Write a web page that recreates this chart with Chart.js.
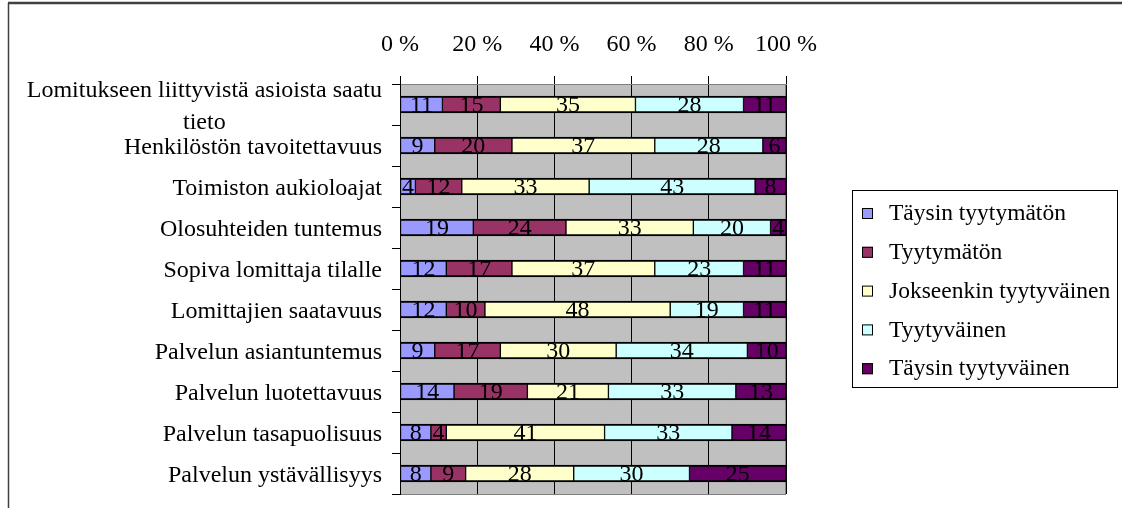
<!DOCTYPE html>
<html>
<head>
<meta charset="utf-8">
<script src="https://cdn.jsdelivr.net/npm/chart.js@4/dist/chart.umd.min.js"></script>
<style>
  html, body { margin: 0; padding: 0; background: #ffffff; }
  #wrap { width: 1122px; height: 508px; position: relative; }
</style>
</head>
<body>
<div id="wrap"><canvas id="c" width="1122" height="508"></canvas></div>
<script>
// ---- data ----
const categories = [
  ['Lomitukseen liittyvistä asioista saatu', 'tieto'],
  'Henkilöstön tavoitettavuus',
  'Toimiston aukioloajat',
  'Olosuhteiden tuntemus',
  'Sopiva lomittaja tilalle',
  'Lomittajien saatavuus',
  'Palvelun asiantuntemus',
  'Palvelun luotettavuus',
  'Palvelun tasapuolisuus',
  'Palvelun ystävällisyys'
];
const seriesNames = ['Täysin tyytymätön', 'Tyytymätön', 'Jokseenkin tyytyväinen', 'Tyytyväinen', 'Täysin tyytyväinen'];
const taysinTyytymaton   = [11, 9, 4, 19, 12, 12, 9, 14, 8, 8];
const tyytymaton         = [15, 20, 12, 24, 17, 10, 17, 19, 4, 9];
const jokseenkin         = [35, 37, 33, 33, 37, 48, 30, 21, 41, 28];
const tyytyvainen        = [28, 28, 43, 20, 23, 19, 34, 33, 33, 30];
const taysinTyytyvainen  = [11, 6, 8, 4, 11, 11, 10, 13, 14, 25];
const seriesColors = ['#9999ff', '#993366', '#ffffcc', '#ccffff', '#660066'];
const tickValues = [0, 20, 40, 60, 80, 100];
const tickSuffix = ' %';

const FONT = '"Liberation Serif", "Times New Roman", serif';
const seriesData = [taysinTyytymaton, tyytymaton, jokseenkin, tyytyvainen, taysinTyytyvainen];

const datasets = seriesNames.map((name, i) => ({
  label: name,
  data: seriesData[i],
  backgroundColor: seriesColors[i],
  borderColor: '#000000',
  borderWidth: { top: 2, bottom: 2, left: 1, right: 1 },
  borderSkipped: false,
  barThickness: 17
}));

const framePlugin = {
  id: 'frame',
  beforeDraw(chart) {
    const ctx = chart.ctx, a = chart.chartArea;
    ctx.save();
    ctx.fillStyle = '#ffffff';
    ctx.fillRect(0, 0, chart.width, chart.height);
    // outer frame (top and left edges)
    ctx.strokeStyle = '#404040';
    ctx.lineWidth = 2.5;
    ctx.beginPath();
    ctx.moveTo(8, 3); ctx.lineTo(chart.width, 3);
    ctx.stroke();
    ctx.lineWidth = 1.5;
    ctx.beginPath();
    ctx.moveTo(8.5, 3); ctx.lineTo(8.5, chart.height);
    ctx.stroke();
    // plot background
    ctx.fillStyle = '#c0c0c0';
    ctx.fillRect(a.left, a.top, a.right - a.left, a.bottom - a.top);
    ctx.strokeStyle = '#808080';
    ctx.lineWidth = 1;
    ctx.strokeRect(a.left + 0.5, a.top + 0.5, a.right - a.left - 1, a.bottom - a.top);
    ctx.restore();
  },
  afterDatasetsDraw(chart) {
    const ctx = chart.ctx;
    ctx.save();
    ctx.font = '24px ' + FONT;
    ctx.fillStyle = '#000000';
    ctx.textAlign = 'center';
    ctx.textBaseline = 'middle';
    chart.data.datasets.forEach((ds, i) => {
      const meta = chart.getDatasetMeta(i);
      meta.data.forEach((bar, j) => {
        const v = ds.data[j];
        const cx = (bar.x + bar.base) / 2;
        ctx.fillText(String(v), cx, bar.y + 1);
      });
    });
    ctx.restore();
  },
  afterDraw(chart) {
    const ctx = chart.ctx;
    const yScale = chart.scales.y;
    ctx.save();
    // category labels
    ctx.font = '24px ' + FONT;
    ctx.fillStyle = '#000000';
    ctx.textBaseline = 'middle';
    const rightEdge = 382;
    categories.forEach((lab, j) => {
      const cy = yScale.getPixelForValue(j);
      if (Array.isArray(lab)) {
        const maxW = Math.max(...lab.map(l => ctx.measureText(l).width));
        const cx = rightEdge - maxW / 2;
        const lh = 32;
        const startY = cy + 2.5 - (lab.length - 1) * lh / 2;
        ctx.textAlign = 'center';
        lab.forEach((l, k) => ctx.fillText(l, cx, startY + k * lh));
      } else {
        ctx.textAlign = 'right';
        ctx.fillText(lab, rightEdge, cy + 2);
      }
    });
    // legend
    const lx = 852, ly = 190, lw = 265, lh = 197;
    ctx.font = '23.5px ' + FONT;
    ctx.strokeStyle = '#000000';
    ctx.lineWidth = 1;
    ctx.fillStyle = '#ffffff';
    ctx.fillRect(lx, ly, lw, lh);
    ctx.strokeRect(lx + 0.5, ly + 0.5, lw, lh);
    ctx.textAlign = 'left';
    chart.data.datasets.forEach((ds, i) => {
      const y = 213 + i * 38.8;
      ctx.fillStyle = ds.backgroundColor;
      ctx.fillRect(862, y - 5, 11, 11);
      ctx.strokeStyle = '#000000';
      ctx.strokeRect(862.5, y - 4.5, 10, 10);
      ctx.fillStyle = '#000000';
      ctx.fillText(ds.label, 889, y + 1);
    });
    ctx.restore();
  }
};

new Chart(document.getElementById('c'), {
  type: 'bar',
  data: { labels: categories.map(c => Array.isArray(c) ? c.join(' ') : c), datasets },
  options: {
    indexAxis: 'y',
    responsive: false,
    animation: false,
    devicePixelRatio: 1,
    layout: { padding: { left: 0, right: 336, top: 0, bottom: 14 } },
    plugins: { legend: { display: false }, tooltip: { enabled: false } },
    scales: {
      x: {
        position: 'top',
        stacked: true,
        min: 0,
        max: 100,
        afterBuildTicks: s => { s.ticks = tickValues.map(v => ({ value: v })); },
        afterFit: s => { s.height = 84; },
        ticks: {
          callback: v => v + tickSuffix,
          font: { family: FONT, size: 24 },
          color: '#000000',
          padding: 17,
          maxRotation: 0
        },
        grid: { color: '#000000', lineWidth: 1, tickLength: 8 },
        border: { display: true, color: '#808080' }
      },
      y: {
        stacked: true,
        afterFit: s => { s.width = 400; },
        ticks: { display: false },
        grid: { drawOnChartArea: false, drawTicks: true, tickLength: 8, color: '#000000', offset: true },
        border: { display: true, color: '#000000', width: 1 }
      }
    }
  },
  plugins: [framePlugin]
});
</script>
</body>
</html>
